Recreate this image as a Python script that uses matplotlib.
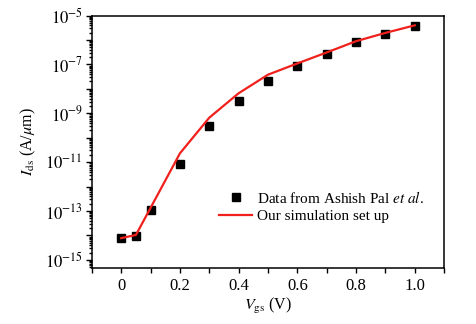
import numpy as np
import matplotlib
matplotlib.use("Agg")
import matplotlib.pyplot as plt
from matplotlib.ticker import LogLocator, FuncFormatter, MultipleLocator, NullFormatter

plt.rcParams['font.family'] = ['Liberation Serif', 'DejaVu Serif']
plt.rcParams['mathtext.fontset'] = 'stix'

# Datos de referencia (Ashish Pal et al.)
vgs_data = [0.0, 0.05, 0.1, 0.2, 0.3, 0.4, 0.5, 0.6, 0.7, 0.8, 0.9, 1.0]
log_ids_data = [-14.09, -14.01, -12.97, -11.08, -9.50, -8.50, -7.67, -7.07, -6.58, -6.08, -5.74, -5.43]

# Nuestra simulacion
vgs_sim = [0.0, 0.05, 0.1, 0.2, 0.3, 0.4, 0.5, 0.6, 0.7, 0.8, 0.9, 1.0]
log_ids_sim = [-14.11, -13.98, -12.87, -10.64, -9.18, -8.18, -7.42, -6.96, -6.51, -6.05, -5.71, -5.40]

ids_data = 10.0 ** np.array(log_ids_data)
ids_sim = 10.0 ** np.array(log_ids_sim)

fig = plt.figure(figsize=(4.76, 3.24), dpi=100)
ax = fig.add_axes([0.193, 0.173, 0.74, 0.779])

ax.plot(vgs_data, ids_data, 's', color='black', markersize=6.3,
        label='Data from Ashish Pal $\\it{et\\ al}$.')
ax.plot(vgs_sim, ids_sim, '-', color='#f0201c', linewidth=1.6,
        label='Our simulation set up')

ax.set_yscale('log')
ax.set_xlim(-0.1, 1.1)
ax.set_ylim(10 ** -15.33, 1e-5)

# Ejes y marcas
ax.xaxis.set_minor_locator(MultipleLocator(0.1))
ax.set_xticks([0, 0.2, 0.4, 0.6, 0.8, 1.0])
ax.set_xticklabels(['0', '0.2', '0.4', '0.6', '0.8', '1.0'])

ax.yaxis.set_major_locator(LogLocator(base=10, numticks=20))
ax.yaxis.set_minor_locator(LogLocator(base=10, subs=np.arange(2, 10), numticks=20))
ax.yaxis.set_minor_formatter(NullFormatter())


# solo se rotulan las decadas impares
def fmt(v, pos):
    e = int(round(np.log10(v)))
    return '$10^{%d}$' % e if e % 2 != 0 else ''


ax.yaxis.set_major_formatter(FuncFormatter(fmt))

ax.tick_params(axis='both', which='both', direction='out', top=False, right=False,
               labelsize=12, width=1.0)
ax.tick_params(axis='y', which='major', length=4.5, pad=2)
ax.tick_params(axis='y', which='minor', length=2.5)
ax.tick_params(axis='x', which='both', length=3.5)
for s in ax.spines.values():
    s.set_linewidth(1.1)

ax.set_xlabel('$V_{\\mathrm{gs}}$ (V)', fontsize=11.5, labelpad=2)
ax.set_ylabel('$I_{\\mathrm{ds}}$ (A/$\\mu$m)', fontsize=11.5, labelpad=5)

ax.legend(loc='upper left', bbox_to_anchor=(0.343, 0.335), frameon=False,
          fontsize=11, handlelength=2.2, handletextpad=0.3, labelspacing=0.25,
          borderaxespad=0)

fig.savefig('out.png', dpi=100)
